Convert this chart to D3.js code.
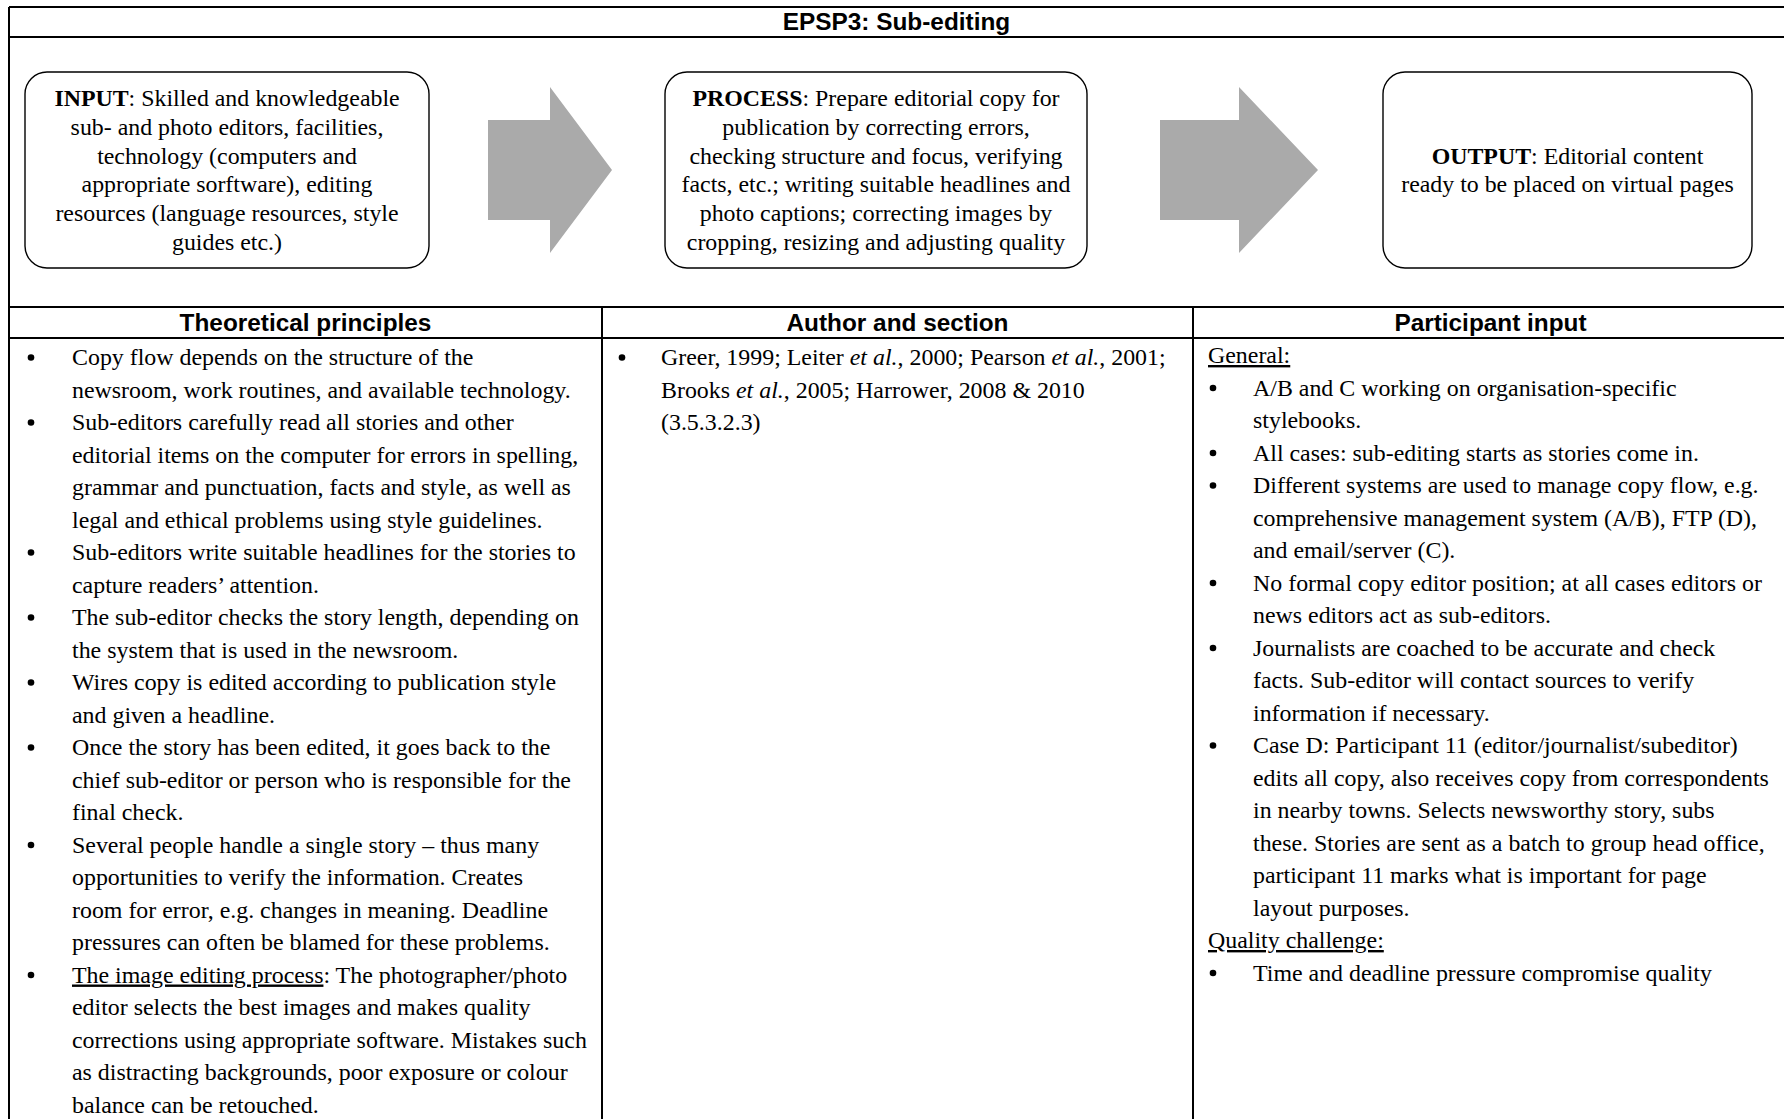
<!DOCTYPE html>
<html><head><meta charset="utf-8">
<script src="https://cdn.jsdelivr.net/npm/d3@7"></script>
<style>body{margin:0;background:#fff}svg{display:block}</style>
</head><body>
<script>
// ---------- DATA ----------
const title = "EPSP3: Sub-editing";
const columnHeaders = ["Theoretical principles", "Author and section", "Participant input"];

const inputLines = [
  "**INPUT**: Skilled and knowledgeable",
  "sub- and photo editors, facilities,",
  "technology (computers and",
  "appropriate sorftware), editing",
  "resources (language resources, style",
  "guides etc.)"
];
const processLines = [
  "**PROCESS**: Prepare editorial copy for",
  "publication by correcting errors,",
  "checking structure and focus, verifying",
  "facts, etc.; writing suitable headlines and",
  "photo captions; correcting images by",
  "cropping, resizing and adjusting quality"
];
const outputLines = [
  "**OUTPUT**: Editorial content",
  "ready to be placed on virtual pages"
];

// "• " = bullet line, "  " = continuation, otherwise plain line
const theoryLines = [
  "• Copy flow depends on the structure of the",
  "  newsroom, work routines, and available technology.",
  "• Sub-editors carefully read all stories and other",
  "  editorial items on the computer for errors in spelling,",
  "  grammar and punctuation, facts and style, as well as",
  "  legal and ethical problems using style guidelines.",
  "• Sub-editors write suitable headlines for the stories to",
  "  capture readers’ attention.",
  "• The sub-editor checks the story length, depending on",
  "  the system that is used in the newsroom.",
  "• Wires copy is edited according to publication style",
  "  and given a headline.",
  "• Once the story has been edited, it goes back to the",
  "  chief sub-editor or person who is responsible for the",
  "  final check.",
  "• Several people handle a single story – thus many",
  "  opportunities to verify the information. Creates",
  "  room for error, e.g. changes in meaning. Deadline",
  "  pressures can often be blamed for these problems.",
  "• _The image editing process_: The photographer/photo",
  "  editor selects the best images and makes quality",
  "  corrections using appropriate software. Mistakes such",
  "  as distracting backgrounds, poor exposure or colour",
  "  balance can be retouched."
];
const authorLines = [
  "• Greer, 1999; Leiter *et al.*, 2000; Pearson *et al.*, 2001;",
  "  Brooks *et al.*, 2005; Harrower, 2008 & 2010",
  "  (3.5.3.2.3)"
];
const participantLines = [
  "_General:_",
  "• A/B and C working on organisation-specific",
  "  stylebooks.",
  "• All cases: sub-editing starts as stories come in.",
  "• Different systems are used to manage copy flow, e.g.",
  "  comprehensive management system (A/B), FTP (D),",
  "  and email/server (C).",
  "• No formal copy editor position; at all cases editors or",
  "  news editors act as sub-editors.",
  "• Journalists are coached to be accurate and check",
  "  facts. Sub-editor will contact sources to verify",
  "  information if necessary.",
  "• Case D: Participant 11 (editor/journalist/subeditor)",
  "  edits all copy, also receives copy from correspondents",
  "  in nearby towns. Selects newsworthy story, subs",
  "  these. Stories are sent as a batch to group head office,",
  "  participant 11 marks what is important for page",
  "  layout purposes.",
  "_Quality challenge:_",
  "• Time and deadline pressure compromise quality"
];

// ---------- LAYOUT ----------
const W = 1784, H = 1119;
const SERIF = "'Liberation Serif', 'Times New Roman', serif";
const SANS = "'Liberation Sans', Arial, sans-serif";
const L = 9, R = 1788, T = 7, titleB = 37, secY = 307, headB = 338, div1 = 602, div2 = 1193;

const svg = d3.select("body").append("svg").attr("width", W).attr("height", H)
  .style("background", "#fff");

function fit(str, family, weight, target) {
  const t = svg.append("text").attr("font-family", family).attr("font-weight", weight)
    .attr("font-size", 100).text(str);
  const w = t.node().getComputedTextLength();
  t.remove();
  return 100 * target / w;
}
const bodySize = fit("newsroom, work routines, and available technology.", SERIF, "normal", 499);
const boxSize = fit("facts, etc.; writing suitable headlines and", SERIF, "normal", 389);
const headSize = fit("Theoretical principles", SANS, "bold", 252);

function rich(textSel, str) {
  const parts = str.split(/(\*\*[^*]+\*\*|\*[^*]+\*|_[^_]+_)/).filter(s => s.length);
  parts.forEach(p => {
    const ts = textSel.append("tspan");
    if (p.startsWith("**")) ts.attr("font-weight", "bold").text(p.slice(2, -2));
    else if (p.startsWith("*")) ts.attr("font-style", "italic").text(p.slice(1, -1));
    else if (p.startsWith("_")) ts.style("text-decoration", "underline").text(p.slice(1, -1));
    else ts.text(p);
  });
}

// ---------- TABLE LINES ----------
const g = svg.append("g").attr("stroke", "#000").attr("stroke-width", 2).attr("fill", "none");
[[L, T, R, T], [L, titleB, R, titleB], [L, secY, R, secY], [L, headB, R, headB],
 [L, T, L, H + 5], [div1, secY, div1, H + 5], [div2, secY, div2, H + 5]]
  .forEach(d => g.append("line").attr("x1", d[0]).attr("y1", d[1]).attr("x2", d[2]).attr("y2", d[3]));

// title
svg.append("text").attr("x", (L + R) / 2 - 2).attr("y", 30).attr("text-anchor", "middle")
  .attr("font-family", SANS).attr("font-weight", "bold").attr("font-size", headSize).text(title);

// column headers
const colBounds = [[L, div1], [div1, div2], [div2, R]];
svg.selectAll("text.hdr").data(columnHeaders).join("text").attr("class", "hdr")
  .attr("x", (d, i) => (colBounds[i][0] + colBounds[i][1]) / 2).attr("y", 331)
  .attr("text-anchor", "middle").attr("font-family", SANS).attr("font-weight", "bold")
  .attr("font-size", headSize).text(d => d);

// ---------- FLOW DIAGRAM ----------
const boxes = [
  { x: 25, y: 72, w: 404, h: 196, lines: inputLines },
  { x: 665, y: 72, w: 422, h: 196, lines: processLines },
  { x: 1383, y: 72, w: 369, h: 196, lines: outputLines }
];
const boxLH = 28.7;
boxes.forEach(b => {
  svg.append("rect").attr("x", b.x).attr("y", b.y).attr("width", b.w).attr("height", b.h)
    .attr("rx", 22).attr("ry", 22).attr("fill", "#fff").attr("stroke", "#000").attr("stroke-width", 1.4);
  const cy = b.y + b.h / 2;
  const yS = d3.scaleLinear().domain([0, 1])
    .range([cy - (b.lines.length - 1) / 2 * boxLH + 0.33 * boxSize, cy - (b.lines.length - 1) / 2 * boxLH + 0.33 * boxSize + boxLH]);
  b.lines.forEach((ln, i) => {
    const t = svg.append("text").attr("x", b.x + b.w / 2).attr("y", yS(i)).attr("text-anchor", "middle")
      .attr("font-family", SERIF).attr("font-size", boxSize).attr("fill", "#000");
    rich(t, ln);
  });
});

const arrows = [
  { x0: 488, xm: 550, tip: 612 },
  { x0: 1160, xm: 1239, tip: 1318 }
];
arrows.forEach(a => {
  const pts = [[a.x0, 120], [a.xm, 120], [a.xm, 87], [a.tip, 170], [a.xm, 253], [a.xm, 220], [a.x0, 220]];
  svg.append("polygon").attr("points", pts.map(p => p.join(",")).join(" ")).attr("fill", "#aaaaaa");
});

// ---------- BODY COLUMNS ----------
const LH = 32.5;
const cols = [
  { lines: theoryLines, bulletX: 31, textX: 72, plainX: 19, base: 365 },
  { lines: authorLines, bulletX: 622, textX: 661, plainX: 612, base: 365 },
  { lines: participantLines, bulletX: 1213, textX: 1253, plainX: 1208, base: 363 }
];
cols.forEach(c => {
  const yS = d3.scaleLinear().domain([0, 1]).range([c.base, c.base + LH]);
  c.lines.forEach((ln, i) => {
    let x = c.plainX, str = ln;
    if (ln.startsWith("• ")) {
      svg.append("circle").attr("cx", c.bulletX).attr("cy", yS(i) - 7.5).attr("r", 3.3).attr("fill", "#000");
      x = c.textX; str = ln.slice(2);
    } else if (ln.startsWith("  ")) {
      x = c.textX; str = ln.slice(2);
    }
    const t = svg.append("text").attr("x", x).attr("y", yS(i)).attr("font-family", SERIF)
      .attr("font-size", bodySize).attr("fill", "#000");
    rich(t, str);
  });
});
</script>
</body></html>
